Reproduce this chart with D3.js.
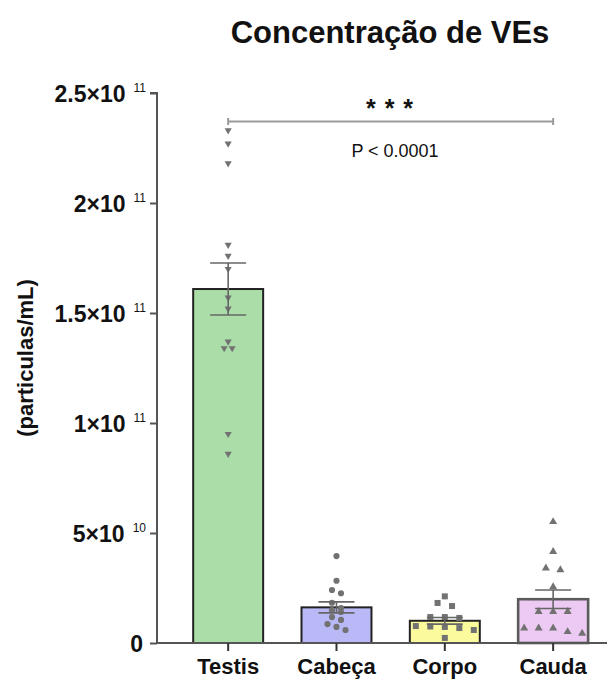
<!DOCTYPE html>
<html>
<head>
<meta charset="utf-8">
<script src="https://cdn.jsdelivr.net/npm/d3@7"></script>
<style>
  html, body { margin: 0; padding: 0; background: #fff; }
  svg { display: block; font-family: "Liberation Sans", Arial, Helvetica, sans-serif; }
</style>
</head>
<body>
<svg id="chart" width="616" height="680"></svg>
<script>
// Groups along the x axis
const categories = ["Testis", "Cabeça", "Corpo", "Cauda"];

// Individual measurements (particles/mL)
const testisValues = [23.3e10, 22.7e10, 21.8e10, 18.1e10, 17.6e10, 17.0e10, 15.7e10, 15.2e10, 13.7e10, 13.4e10, 13.4e10, 9.5e10, 8.6e10];
const cabecaValues = [3.95e10, 2.83e10, 2.41e10, 2.26e10, 1.83e10, 1.59e10, 1.50e10, 1.41e10, 1.18e10, 1.05e10, 0.86e10, 0.73e10, 0.59e10];
const corpoValues  = [2.12e10, 1.82e10, 1.68e10, 1.18e10, 1.18e10, 1.14e10, 0.77e10, 0.75e10, 0.73e10, 0.68e10, 0.59e10, 0.23e10];
const caudaValues  = [5.51e10, 4.15e10, 3.40e10, 3.32e10, 2.55e10, 1.42e10, 1.42e10, 1.42e10, 0.67e10, 0.67e10, 0.67e10, 0.51e10, 0.44e10];

// Bar heights (mean) and error bars (SEM)
const means = [16.09e10, 1.62e10, 1.01e10, 1.99e10];
const sems  = [1.18e10, 0.25e10, 0.15e10, 0.42e10];

// Y axis ticks: mantissa and exponent
const yTicks     = [0, 5e10, 1e11, 1.5e11, 2e11, 2.5e11];
const tickMant   = ["0", "5", "1", "1.5", "2", "2.5"];
const tickExp    = ["", "10", "11", "11", "11", "11"];

const titleText  = "Concentração de VEs";
const yLabelText = "(particulas/mL)";
const starsText  = "* * *";
const pText      = "P < 0.0001";

const groupValues = [testisValues, cabecaValues, corpoValues, caudaValues];
const fills   = ["#abdda8", "#b9b9f7", "#fbfa9d", "#eccaf3"];
const strokes = ["#222222", "#222222", "#222222", "#5a5a5a"];
const symbols = ["tri-down", "circle", "square", "tri-up"];
const spacing = [8, 9, 14.5, 14.5];   // horizontal gap between points sharing a row

const svg = d3.select("#chart");

const y = d3.scaleLinear().domain([0, 2.5e11]).range([643, 93]);
const x = d3.scaleBand().domain(categories).range([174, 607.3])
  .paddingInner(0.354).paddingOuter(0.177);

// Title
svg.append("text")
  .attr("x", 390).attr("y", 43)
  .attr("text-anchor", "middle")
  .attr("font-size", 31).attr("font-weight", "bold").attr("fill", "#111")
  .text(titleText);

// Y axis label
svg.append("text")
  .attr("transform", "translate(33,358) rotate(-90)")
  .attr("text-anchor", "middle")
  .attr("font-size", 22).attr("font-weight", "bold").attr("fill", "#111")
  .text(yLabelText);

// Bars
const bars = svg.append("g");
categories.forEach((c, i) => {
  bars.append("rect")
    .attr("x", x(c)).attr("width", x.bandwidth())
    .attr("y", y(means[i])).attr("height", y(0) - y(means[i]))
    .attr("fill", fills[i])
    .attr("stroke", strokes[i]).attr("stroke-width", i === 3 ? 2.6 : 2);
});

// Scatter points: rows of nearby values spread symmetrically around the bar centre
function layoutPoints(vals, gap) {
  const sorted = vals.slice().sort((a, b) => b - a);
  const rows = [];
  sorted.forEach(v => {
    const last = rows[rows.length - 1];
    if (last && Math.abs(y(last[0]) - y(v)) < 6.5) last.push(v);
    else rows.push([v]);
  });
  const out = [];
  rows.forEach(r => r.forEach((v, k) => out.push({ v, dx: (k - (r.length - 1) / 2) * gap })));
  return out;
}

const sym = {
  "circle": d3.symbol().type(d3.symbolCircle).size(30),
  "square": d3.symbol().type(d3.symbolSquare).size(36),
  "tri-up": d3.symbol().type(d3.symbolTriangle).size(28),
  "tri-down": d3.symbol().type(d3.symbolTriangle).size(22)
};

const pts = svg.append("g");
categories.forEach((c, i) => {
  const cx = x(c) + x.bandwidth() / 2;
  layoutPoints(groupValues[i], spacing[i]).forEach(p => {
    pts.append("path")
      .attr("d", sym[symbols[i]]())
      .attr("transform", `translate(${cx + p.dx},${y(p.v)})` + (symbols[i] === "tri-down" ? " rotate(180)" : ""))
      .attr("fill", "#727272");
  });
});

// Error bars (mean ± SEM)
const eb = svg.append("g").attr("stroke", "#666").attr("stroke-width", 1.6).attr("fill", "none");
categories.forEach((c, i) => {
  const cx = x(c) + x.bandwidth() / 2;
  const hi = y(means[i] + sems[i]), lo = y(means[i] - sems[i]);
  eb.append("line").attr("x1", cx).attr("x2", cx).attr("y1", hi).attr("y2", lo);
  eb.append("line").attr("x1", cx - 18).attr("x2", cx + 18).attr("y1", hi).attr("y2", hi);
  eb.append("line").attr("x1", cx - 18).attr("x2", cx + 18).attr("y1", lo).attr("y2", lo);
});

// Y axis
const yAxis = svg.append("g").attr("transform", "translate(157,0)")
  .call(d3.axisLeft(y).tickValues(yTicks).tickSize(7).tickFormat(""));
yAxis.select(".domain").attr("stroke", "#555").attr("stroke-width", 2).attr("d", `M-7,${y(2.5e11)}H0V${y(0)}`);
yAxis.selectAll(".tick line").attr("stroke", "#555").attr("stroke-width", 2);

const yLab = svg.append("g");
yTicks.forEach((t, i) => {
  const ty = y(t);
  const txt = yLab.append("text")
    .attr("x", 146).attr("y", ty + 9)
    .attr("text-anchor", "end")
    .attr("font-size", 23).attr("font-weight", "bold").attr("fill", "#111");
  if (tickExp[i]) {
    txt.append("tspan").text(tickMant[i] + "×10");
    txt.append("tspan").attr("dx", 8).attr("dy", -10).attr("font-size", 12).attr("font-weight", "normal").text(tickExp[i]);
  } else {
    txt.attr("x", 143).text(tickMant[i]);
  }
});

// X axis
const xAxis = svg.append("g").attr("transform", `translate(0,${y(0)})`)
  .call(d3.axisBottom(x).tickSize(8).tickFormat(""));
xAxis.select(".domain").attr("stroke", "#555").attr("stroke-width", 2).attr("d", "M157,0H607");
xAxis.selectAll(".tick line").attr("stroke", "#333").attr("stroke-width", 2);

categories.forEach(c => {
  svg.append("text")
    .attr("x", x(c) + x.bandwidth() / 2).attr("y", 674)
    .attr("text-anchor", "middle")
    .attr("font-size", 22).attr("font-weight", "bold").attr("fill", "#111")
    .text(c);
});

// Significance bracket between Testis and Cauda
const x1 = x("Testis") + x.bandwidth() / 2, x2 = x("Cauda") + x.bandwidth() / 2;
const sig = svg.append("g").attr("stroke", "#9a9a9a").attr("stroke-width", 2);
sig.append("line").attr("x1", x1).attr("x2", x2).attr("y1", 121.5).attr("y2", 121.5);
sig.append("line").attr("x1", x1).attr("x2", x1).attr("y1", 118).attr("y2", 125);
sig.append("line").attr("x1", x2).attr("x2", x2).attr("y1", 118).attr("y2", 125);

svg.append("text")
  .attr("x", 390).attr("y", 117)
  .attr("text-anchor", "middle")
  .attr("font-size", 25).attr("font-weight", "bold").attr("fill", "#111")
  .attr("letter-spacing", 1)
  .text(starsText);

svg.append("text")
  .attr("x", 395).attr("y", 157)
  .attr("text-anchor", "middle")
  .attr("font-size", 18).attr("fill", "#111")
  .text(pText);
</script>
</body>
</html>
